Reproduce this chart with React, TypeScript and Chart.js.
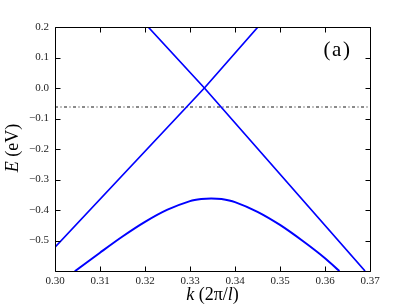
import React, { useEffect, useRef } from 'react';
import { Chart, registerables } from 'chart.js';

Chart.register(...registerables);

// ---- data ----
const xTickValues = [0.30, 0.31, 0.32, 0.33, 0.34, 0.35, 0.36, 0.37];
const yTickValues = [-0.6, -0.5, -0.4, -0.3, -0.2, -0.1, 0.0, 0.1, 0.2];

const bandDownK = [0.3207, 0.3332, 0.3689];
const bandDownE = [0.2, 0.0, -0.6];

const bandUpK = [0.30, 0.3332, 0.3451];
const bandUpE = [-0.522, 0.0, 0.2];

const valenceK = [0.3044, 0.31, 0.315, 0.32, 0.325, 0.33, 0.3325, 0.3347, 0.337, 0.34, 0.345, 0.35, 0.355, 0.36, 0.3632];
const valenceE = [-0.601, -0.540, -0.487, -0.439, -0.399, -0.371, -0.364, -0.362, -0.364, -0.374, -0.406, -0.449, -0.501, -0.558, -0.600];

const fermiK = [0.30, 0.37];
const fermiE = [-0.062, -0.062];

const xTitleParts = [
  { t: 'k', it: true },
  { t: ' (2π/', it: false },
  { t: 'l', it: true },
  { t: ')', it: false },
];
const yTitleParts = [
  { t: 'E', it: true },
  { t: ' (eV)', it: false },
];
const panelLabel = '(a)';

const SERIF = '"Liberation Serif", "Times New Roman", serif';

const pts = (ks: number[], es: number[]) => ks.map((k, i) => ({ x: k, y: es[i] }));

const fmtX = (v: number) => v.toFixed(2);
const fmtY = (v: number) => {
  if (Math.abs(v + 0.6) < 1e-9) return '';
  const s = Math.abs(v).toFixed(1);
  return v < -1e-9 ? '\u2212' + s : s;
};

function drawParts(ctx: CanvasRenderingContext2D, parts: { t: string; it: boolean }[], size: number, spacing = 0) {
  (ctx as any).letterSpacing = `${spacing}px`;
  let total = 0;
  const widths = parts.map((p) => {
    ctx.font = `${p.it ? 'italic ' : ''}${size}px ${SERIF}`;
    const w = ctx.measureText(p.t).width;
    total += w;
    return w;
  });
  let x = -total / 2;
  parts.forEach((p, i) => {
    ctx.font = `${p.it ? 'italic ' : ''}${size}px ${SERIF}`;
    ctx.fillText(p.t, x, 0);
    x += widths[i];
  });
  (ctx as any).letterSpacing = '0px';
}

const decor = {
  id: 'decor',
  afterDraw(chart: any) {
    const { ctx, chartArea } = chart;
    const { left, right, top, bottom } = chartArea;
    const xs = chart.scales.x;
    const ys = chart.scales.y;
    const c = (v: number) => Math.round(v) + 0.5;
    ctx.save();
    ctx.strokeStyle = '#000';
    ctx.lineWidth = 1;
    ctx.beginPath();
    ctx.rect(c(left), c(top), c(right) - c(left), c(bottom) - c(top));
    ctx.stroke();
    const L = 5;
    ctx.beginPath();
    xTickValues.forEach((v) => {
      const px = c(xs.getPixelForValue(v));
      ctx.moveTo(px, c(bottom)); ctx.lineTo(px, c(bottom) - L);
      ctx.moveTo(px, c(top)); ctx.lineTo(px, c(top) + L);
    });
    yTickValues.forEach((v) => {
      const py = c(ys.getPixelForValue(v));
      ctx.moveTo(c(left), py); ctx.lineTo(c(left) + L, py);
      ctx.moveTo(c(right), py); ctx.lineTo(c(right) - L, py);
    });
    ctx.stroke();

    ctx.fillStyle = '#000';
    ctx.textBaseline = 'alphabetic';
    ctx.textAlign = 'left';
    // x title
    ctx.save();
    ctx.translate((left + right) / 2, 300);
    drawParts(ctx, xTitleParts, 18);
    ctx.restore();
    // y title
    ctx.save();
    ctx.translate(18, (top + bottom) / 2 - 1);
    ctx.rotate(-Math.PI / 2);
    drawParts(ctx, yTitleParts, 18);
    ctx.restore();
    // panel label
    ctx.save();
    ctx.translate(337.5, 56);
    drawParts(ctx, [{ t: panelLabel, it: false }], 21, 1.5);
    ctx.restore();
    ctx.restore();
  },
};

export default function App() {
  const ref = useRef<HTMLCanvasElement | null>(null);
  useEffect(() => {
    if (!ref.current) return;
    const lineCommon = {
      showLine: true,
      pointRadius: 0,
      pointHoverRadius: 0,
      fill: false,
    };
    const chart = new Chart(ref.current, {
      type: 'scatter',
      data: {
        datasets: [
          { ...lineCommon, data: pts(bandDownK, bandDownE), borderColor: '#0000ff', borderWidth: 1.7, tension: 0 },
          { ...lineCommon, data: pts(bandUpK, bandUpE), borderColor: '#0000ff', borderWidth: 1.7, tension: 0 },
          { ...lineCommon, data: pts(valenceK, valenceE), borderColor: '#0000ff', borderWidth: 2, tension: 0.3 },
          { ...lineCommon, data: pts(fermiK, fermiE), borderColor: '#8a8a8a', borderWidth: 2, borderDash: [3, 2.5, 1, 2.5] },
        ] as any,
      },
      options: {
        animation: false,
        responsive: false,
        devicePixelRatio: 1,
        events: [],
        layout: { padding: { top: 27, right: 37, left: 0, bottom: 0 } },
        plugins: { legend: { display: false }, tooltip: { enabled: false } },
        scales: {
          x: {
            type: 'linear',
            min: 0.30,
            max: 0.37,
            grid: { display: false, drawTicks: false },
            border: { display: false },
            afterBuildTicks: (s: any) => { s.ticks = xTickValues.map((v) => ({ value: v })); },
            afterFit: (s: any) => { s.height = 34; },
            ticks: {
              callback: (v: any) => fmtX(Number(v)),
              font: { family: SERIF, size: 11 },
              color: '#222',
              padding: 4,
              maxRotation: 0,
              autoSkip: false,
            },
          },
          y: {
            type: 'linear',
            min: -0.6,
            max: 0.2,
            grid: { display: false, drawTicks: false },
            border: { display: false },
            afterBuildTicks: (s: any) => { s.ticks = yTickValues.map((v) => ({ value: v })); },
            afterFit: (s: any) => { s.width = 55; },
            ticks: {
              callback: (v: any) => fmtY(Number(v)),
              font: { family: SERIF, size: 11 },
              color: '#222',
              padding: 6,
              autoSkip: false,
            },
          },
        },
      } as any,
      plugins: [decor],
    });
    return () => chart.destroy();
  }, []);
  return (
    <div style={{ position: 'absolute', left: 0, top: 0, width: 407, height: 305, background: '#fff' }}>
      <canvas ref={ref} width={407} height={305} style={{ display: 'block', width: 407, height: 305 }} />
    </div>
  );
}
